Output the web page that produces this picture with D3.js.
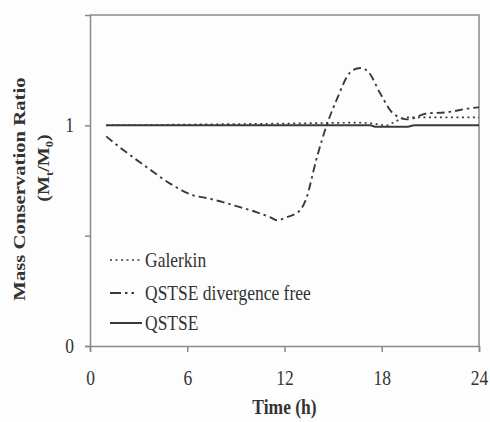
<!DOCTYPE html>
<html>
<head>
<meta charset="utf-8">
<script src="https://cdn.jsdelivr.net/npm/d3@7"></script>
<style>
  body { margin: 0; background: #fdfdfd; }
  svg text { font-family: "Liberation Serif", "Times New Roman", serif; fill: #333; }
</style>
</head>
<body>
<svg id="chart"></svg>
<script>
// data
const galerkinT = [1, 4, 8, 12, 16.5, 17.5, 18.3, 18.9, 19.6, 22, 24];
const galerkinV = [1.0, 1.002, 1.005, 1.008, 1.012, 1.008, 1.0, 1.02, 1.036, 1.036, 1.036];

const divFreeT = [1, 1.85, 3.6, 4.94, 6.36, 7.22, 8.21, 9.26, 10.3, 11.1, 11.54, 12.16, 12.96, 13.3, 14, 14.6, 15.3, 15.9, 16.2, 16.7, 17.2, 17.9, 18.7, 19.6, 20.8, 22, 23.4, 24];
const divFreeV = [0.95, 0.9, 0.805, 0.736, 0.683, 0.67, 0.652, 0.629, 0.606, 0.584, 0.57, 0.584, 0.615, 0.66, 0.855, 1.0, 1.13, 1.226, 1.25, 1.26, 1.24, 1.145, 1.054, 1.027, 1.054, 1.059, 1.077, 1.082];

const qstseT = [1, 6, 12, 17.3, 17.6, 19.6, 20, 24];
const qstseV = [1, 1, 1, 1, 0.994, 0.994, 1, 1];

const xTicks = [0, 6, 12, 18, 24];
const yTicks = [0, 0.5, 1];
const yTickLabels = ["0", "", "1"];
const legendNames = ["Galerkin", "QSTSE divergence free", "QSTSE"];

const width = 490, height = 422;
const margin = { top: 15, right: 11, bottom: 76, left: 90 };
const stretch = 1.15; // the picture is a little taller than wide

const svg = d3.select("#chart").attr("width", width).attr("height", height);

const x = d3.scaleLinear().domain([0, 24]).range([margin.left, width - margin.right]);
const y = d3.scaleLinear().domain([0, 1.5]).range([height - margin.bottom, margin.top]);

const axisColor = "#8a8a8a";
const lineColor = "#3a3a3a";

// frame: top and right
svg.append("path")
  .attr("d", `M${x(0)},${y(1.5)}H${x(24)}V${y(0)}`)
  .attr("fill", "none").attr("stroke", axisColor).attr("stroke-width", 1.5);

// x axis
const gx = svg.append("g")
  .attr("transform", `translate(0,${y(0)})`)
  .call(d3.axisBottom(x).tickValues(xTicks).tickSize(6).tickFormat(d3.format("d")));
gx.select(".domain").attr("stroke", axisColor).attr("stroke-width", 1.5);
gx.selectAll(".tick line").attr("stroke", axisColor).attr("stroke-width", 1.5);
gx.selectAll(".tick text")
  .attr("y", null).attr("dy", null)
  .attr("transform", `translate(0,39) scale(1,${stretch})`)
  .style("font-size", "17.5px").attr("fill", "#333");

// y axis
const gy = svg.append("g")
  .attr("transform", `translate(${x(0)},0)`)
  .call(d3.axisLeft(y).tickValues(yTicks).tickSize(5).tickFormat((d, i) => yTickLabels[i]));
gy.select(".domain").attr("stroke", axisColor).attr("stroke-width", 1.5);
gy.selectAll(".tick line").attr("stroke", axisColor).attr("stroke-width", 1.5);
gy.selectAll(".tick text")
  .attr("x", null).attr("dy", null)
  .attr("transform", `translate(-16,6) scale(1,${stretch})`)
  .style("font-size", "17.5px").attr("fill", "#333");

// series
const line = d3.line().x(d => x(d[0])).y(d => y(d[1])).curve(d3.curveMonotoneX);
const series = [
  { name: legendNames[0], pts: d3.zip(galerkinT, galerkinV), dash: "2,3.5", key: "2,3.5", w: 1.7 },
  { name: legendNames[1], pts: d3.zip(divFreeT, divFreeV), dash: "8,4,2.5,4", key: "11,4,2.5,4,2.5,20", w: 1.9 },
  { name: legendNames[2], pts: d3.zip(qstseT, qstseV), dash: null, key: null, w: 2 }
];

svg.selectAll(".series")
  .data(series)
  .enter()
  .append("path")
  .attr("class", "series")
  .attr("d", d => line(d.pts))
  .attr("fill", "none")
  .attr("stroke", lineColor)
  .attr("stroke-width", d => d.w)
  .attr("stroke-dasharray", d => d.dash);

// legend
const legend = svg.append("g").attr("transform", "translate(110,260)");
const rowY = [0, 33, 63];
series.forEach((s, i) => {
  const row = legend.append("g").attr("transform", `translate(0,${rowY[i]})`);
  row.append("line")
    .attr("x1", 0).attr("x2", 32).attr("y1", 0).attr("y2", 0)
    .attr("stroke", lineColor).attr("stroke-width", s.w)
    .attr("stroke-dasharray", s.key);
  row.append("text")
    .attr("transform", `translate(35,6.5) scale(1,${stretch})`)
    .style("font-size", "17.5px")
    .text(s.name);
});

// axis titles
svg.append("text")
  .attr("transform", `translate(${x(12)},414) scale(1,${stretch})`)
  .attr("text-anchor", "middle")
  .style("font-size", "17.5px").style("font-weight", "bold")
  .text("Time (h)");

svg.append("text")
  .attr("transform", `translate(25,189) scale(1,${stretch * 1.03}) rotate(-90)`)
  .attr("text-anchor", "middle")
  .style("font-size", "17.5px").style("font-weight", "bold")
  .text("Mass Conservation Ratio");

const sub = svg.append("text")
  .attr("transform", `translate(49,168) scale(1,${stretch}) rotate(-90)`)
  .attr("text-anchor", "middle")
  .style("font-size", "17.5px").style("font-weight", "bold");
sub.append("tspan").text("(M");
sub.append("tspan").attr("dy", 4).style("font-size", "11px").text("t");
sub.append("tspan").attr("dy", -4).text("/M");
sub.append("tspan").attr("dy", 4).style("font-size", "11px").text("0");
sub.append("tspan").attr("dy", -4).text(")");
</script>
</body>
</html>
